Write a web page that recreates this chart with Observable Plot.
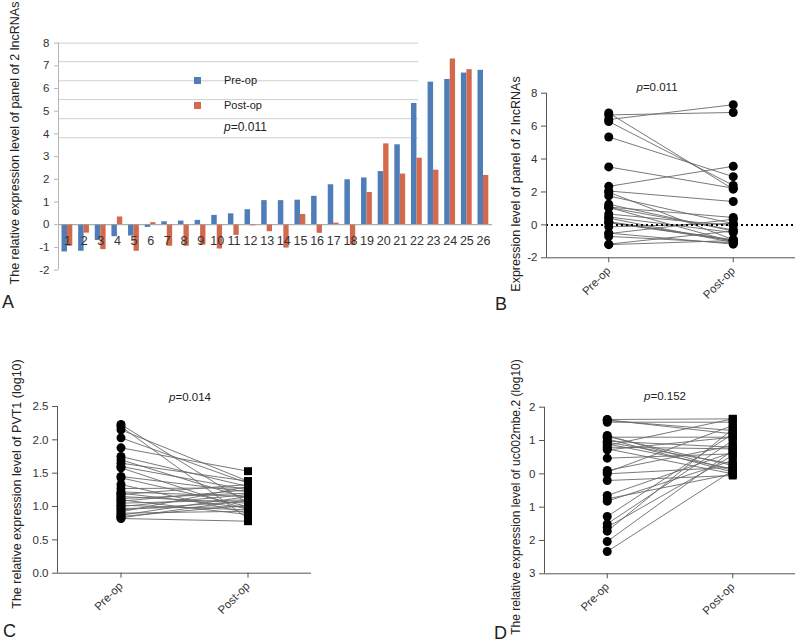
<!DOCTYPE html>
<html>
<head>
<meta charset="utf-8">
<script src="https://cdn.jsdelivr.net/npm/d3@7"></script>
<script src="https://cdn.jsdelivr.net/npm/@observablehq/plot@0.6"></script>
<style>
  html, body { margin: 0; padding: 0; background: #fff; }
  #fig { position: relative; width: 800px; height: 643px; overflow: hidden; font-family: "Liberation Sans", Arial, sans-serif; color: #222; }
  #fig svg { position: absolute; overflow: visible; }
  .ann { position: absolute; white-space: nowrap; line-height: 1; }
  .ytitle { position: absolute; white-space: nowrap; line-height: 1; transform: translate(-50%, -50%) rotate(-90deg); font-size: 12.5px; color: #222; }
  .letter { position: absolute; font-size: 18px; line-height: 1; color: #222; }
  .sq { position: absolute; width: 7px; height: 7px; }
</style>
</head>
<body>
<div id="fig"></div>
<script>
// ---------- data ----------
const cases = d3.range(1, 27);                 // sample numbers 1..26 (panel A categories)
const preA  = [-1.2, -1.17, -0.7, -0.53, -0.5, -0.12, 0.13, 0.16, 0.19, 0.41, 0.48, 0.66, 1.06, 1.06, 1.08, 1.25, 1.76, 1.98, 2.06, 2.34, 3.52, 5.34, 6.28, 6.4, 6.68, 6.8];
const postA = [-0.95, -0.37, -1.1, 0.34, -1.17, 0.09, -0.95, -0.95, -0.9, -1.07, -0.47, -0.05, -0.31, -1.03, 0.45, -0.38, 0.07, -0.9, 1.42, 3.56, 2.23, 2.93, 2.4, 7.3, 6.83, 2.17];
const gridA = [8, 7.18, 6.34, 5.51, 4.67, 3.83];
const ticksA = d3.range(-2, 9);

const groups = ["Pre-op", "Post-op"];
const ticksB = [-2, 0, 2, 4, 6, 8];

const preC  = [2.23, 2.2, 2.15, 2.03, 1.88, 1.75, 1.7, 1.65, 1.6, 1.58, 1.45, 1.43, 1.33, 1.27, 1.22, 1.2, 1.18, 1.15, 1.12, 1.1, 1.08, 1.05, 1.02, 1.0, 0.97, 0.95, 0.92, 0.9, 0.87, 0.85, 0.83, 0.82];
const postC = [1.05, 0.82, 1.38, 1.35, 1.53, 1.3, 1.12, 1.38, 1.25, 0.95, 1.22, 1.0, 0.9, 1.28, 1.15, 0.98, 1.33, 1.05, 1.2, 0.88, 1.25, 1.1, 0.95, 1.18, 1.0, 1.08, 1.3, 0.93, 1.15, 1.02, 1.1, 0.78];
const ticksC = [0, 0.5, 1, 1.5, 2, 2.5];

const preD  = [1.63, 1.62, 1.6, 1.55, 1.15, 1.12, 1.1, 1.05, 0.98, 0.95, 0.9, 0.85, 0.8, 0.75, 0.72, 0.47, 0.1, 0.05, 0.0, -0.2, -0.65, -0.75, -0.82, -1.28, -1.5, -1.6, -1.72, -2.03, -2.33];
const postD = [1.65, 1.2, 1.3, 1.55, 0.1, 0.25, 1.1, 0.05, 0.8, 0.3, 0.15, 1.65, 0.75, 0.0, 1.1, 0.6, 0.85, 1.45, 0.2, -0.05, 0.65, 0.0, 0.4, 1.2, 1.0, 0.55, 1.35, 0.7, 0.1];
const ticksD = [-3, -2, -1, 0, 1, 2];

const pValues = {A: "0.011", B: "0.011", C: "0.014", D: "0.152"};

// ---------- style ----------
const FONT = '"Liberation Sans", Arial, sans-serif';
const BLUE = "#4f7db8";
const ORANGE = "#d3694c";
const fig = document.getElementById("fig");

function place(svg, left, top) {
  svg.style.left = left + "px";
  svg.style.top = top + "px";
  fig.appendChild(svg);
}
function div(cls, html, css) {
  const d = document.createElement("div");
  d.className = cls;
  d.innerHTML = html;
  Object.assign(d.style, css);
  fig.appendChild(d);
  return d;
}

// ---------- Panel A: grouped bars ----------
const rowsA = cases.map((c, k) => ({i: c, pre: preA[k], post: postA[k]}));
const xMinA = 0.46, xMaxA = 26.54, gridEnd = 22.1;
const plotA = Plot.plot({
  width: 500, height: 310,
  marginLeft: 58, marginRight: 8, marginTop: 42.6, marginBottom: 40.4,
  style: {fontFamily: FONT, fontSize: "11px", color: "#333", background: "transparent"},
  x: {type: "linear", domain: [xMinA, xMaxA], axis: null},
  y: {domain: [-2, 8], axis: null},
  marks: [
    Plot.ruleY(gridA, {x1: () => xMinA, x2: () => gridEnd, stroke: "#cfcfcf", strokeWidth: 1}),
    Plot.rect(rowsA, {x1: d => d.i - 0.33, x2: d => d.i, y1: () => 0, y2: "pre", fill: BLUE}),
    Plot.rect(rowsA, {x1: d => d.i, x2: d => d.i + 0.32, y1: () => 0, y2: "post", fill: ORANGE}),
    Plot.ruleY([0], {stroke: "#9a9a9a", strokeWidth: 1}),
    Plot.ruleX([xMinA], {y1: () => -2, y2: () => 8, stroke: "#b5b5b5"}),
    Plot.axisY({ticks: ticksA, tickFormat: d => String(d), tickSize: 4, tickPadding: 5, stroke: "#b5b5b5", fontSize: 11.5, label: null}),
    Plot.text(rowsA, {x: "i", y: () => 0, text: d => String(d.i), dy: 16, fontSize: 12.5, fill: "#333"})
  ]
});
place(plotA, 0, 0);

// ---------- paired-dot panels ----------
function pairedPlot({pre, post, yDomain, ticks, tickFormat, width, height, mL, mT, mB, mR, xDomain, postSymbol, fontSize, zeroLine}) {
  const pairs = pre.map((v, k) => ({a: v, b: post[k]}));
  const long = pre.map(v => ({g: 1, v})).concat(post.map(v => ({g: 2, v})));
  return Plot.plot({
    width, height, marginLeft: mL, marginTop: mT, marginBottom: mB, marginRight: mR,
    style: {fontFamily: FONT, fontSize: fontSize + "px", color: "#333", background: "transparent"},
    x: {type: "linear", domain: xDomain, axis: null},
    y: {domain: yDomain, axis: null},
    marks: [
      Plot.link(pairs, {x1: () => 1, x2: () => 2, y1: "a", y2: "b", stroke: "#6a6a6a", strokeWidth: 0.9}),
      Plot.dot(long.filter(d => d.g === 1), {x: "g", y: "v", r: 4.5, fill: "#000", symbol: "circle"}),
      Plot.dot(long.filter(d => d.g === 2), {x: "g", y: "v", r: 4.5, fill: "#000", symbol: postSymbol}),
      zeroLine ? Plot.ruleY([0], {stroke: "#000", strokeWidth: 2, strokeDasharray: "2,3"}) : null,
      Plot.ruleX([xDomain[0]], {y1: () => yDomain[0], y2: () => yDomain[1], stroke: "#555"}),
      Plot.ruleY([yDomain[0]], {stroke: "#555"}),
      Plot.axisY({ticks, tickFormat, tickSize: 5, tickPadding: 4, stroke: "#555", label: null, fontSize}),
      Plot.axisX({ticks: [1, 2], tickFormat: d => groups[d - 1], tickSize: 5, tickPadding: 6, tickRotate: -45, stroke: "#555", label: null, fontSize})
    ]
  });
}

const plotB = pairedPlot({
  pre: preA, post: postA, yDomain: [-2, 8], ticks: ticksB, tickFormat: d => String(d),
  width: 360, height: 270, mL: 106, mT: 32.7, mB: 72.7, mR: 5, xDomain: [0.5, 2.5], postSymbol: "circle", fontSize: 11.5, zeroLine: true
});
place(plotB, 440, 60);

const plotC = pairedPlot({
  pre: preC, post: postC, yDomain: [0, 2.5], ticks: ticksC, tickFormat: d3.format(".1f"),
  width: 330, height: 273, mL: 57, mT: 36, mB: 70.3, mR: 19, xDomain: [0.5, 2.5], postSymbol: "square", fontSize: 11.5
});
place(plotC, 0, 370);

const plotD = pairedPlot({
  pre: preD, post: postD, yDomain: [-3, 2], ticks: ticksD, tickFormat: d => String(Math.abs(d)),
  width: 356, height: 273, mL: 104, mT: 36.7, mB: 69.7, mR: 1, xDomain: [0.5, 2.5], postSymbol: "square", fontSize: 11.5
});
place(plotD, 440, 370);

// ---------- annotations ----------
div("sq", "", {left: "194px", top: "77px", background: BLUE});
div("sq", "", {left: "194px", top: "102px", background: ORANGE});
div("ann", "Pre-op", {left: "224px", top: "75px", fontSize: "11px"});
div("ann", "Post-op", {left: "224px", top: "100px", fontSize: "11px"});
div("ann", "<i>p</i>=" + pValues.A, {left: "224px", top: "121px", fontSize: "12px"});

div("ann", "<i>p</i>=" + pValues.B, {left: "657px", top: "88px", fontSize: "11.5px", transform: "translate(-50%,-50%)"});
div("ann", "<i>p</i>=" + pValues.C, {left: "190px", top: "398px", fontSize: "11.5px", transform: "translate(-50%,-50%)"});
div("ann", "<i>p</i>=" + pValues.D, {left: "665px", top: "397px", fontSize: "11.5px", transform: "translate(-50%,-50%)"});

div("ytitle", "The relative expression level of panel of 2 lncRNAs", {left: "15px", top: "143px"});
div("ytitle", "Expression level of panel of 2 lncRNAs", {left: "516px", top: "184px"});
div("ytitle", "The relative expression level of PVT1 (log10)", {left: "17px", top: "484px"});
div("ytitle", "The relative expression level of uc002mbe.2 (log10)", {left: "516px", top: "497px", fontSize: "12px"});

div("letter", "A", {left: "2px", top: "293px"});
div("letter", "B", {left: "495px", top: "295px"});
div("letter", "C", {left: "3px", top: "622px"});
div("letter", "D", {left: "494px", top: "624px"});
</script>
</body>
</html>
